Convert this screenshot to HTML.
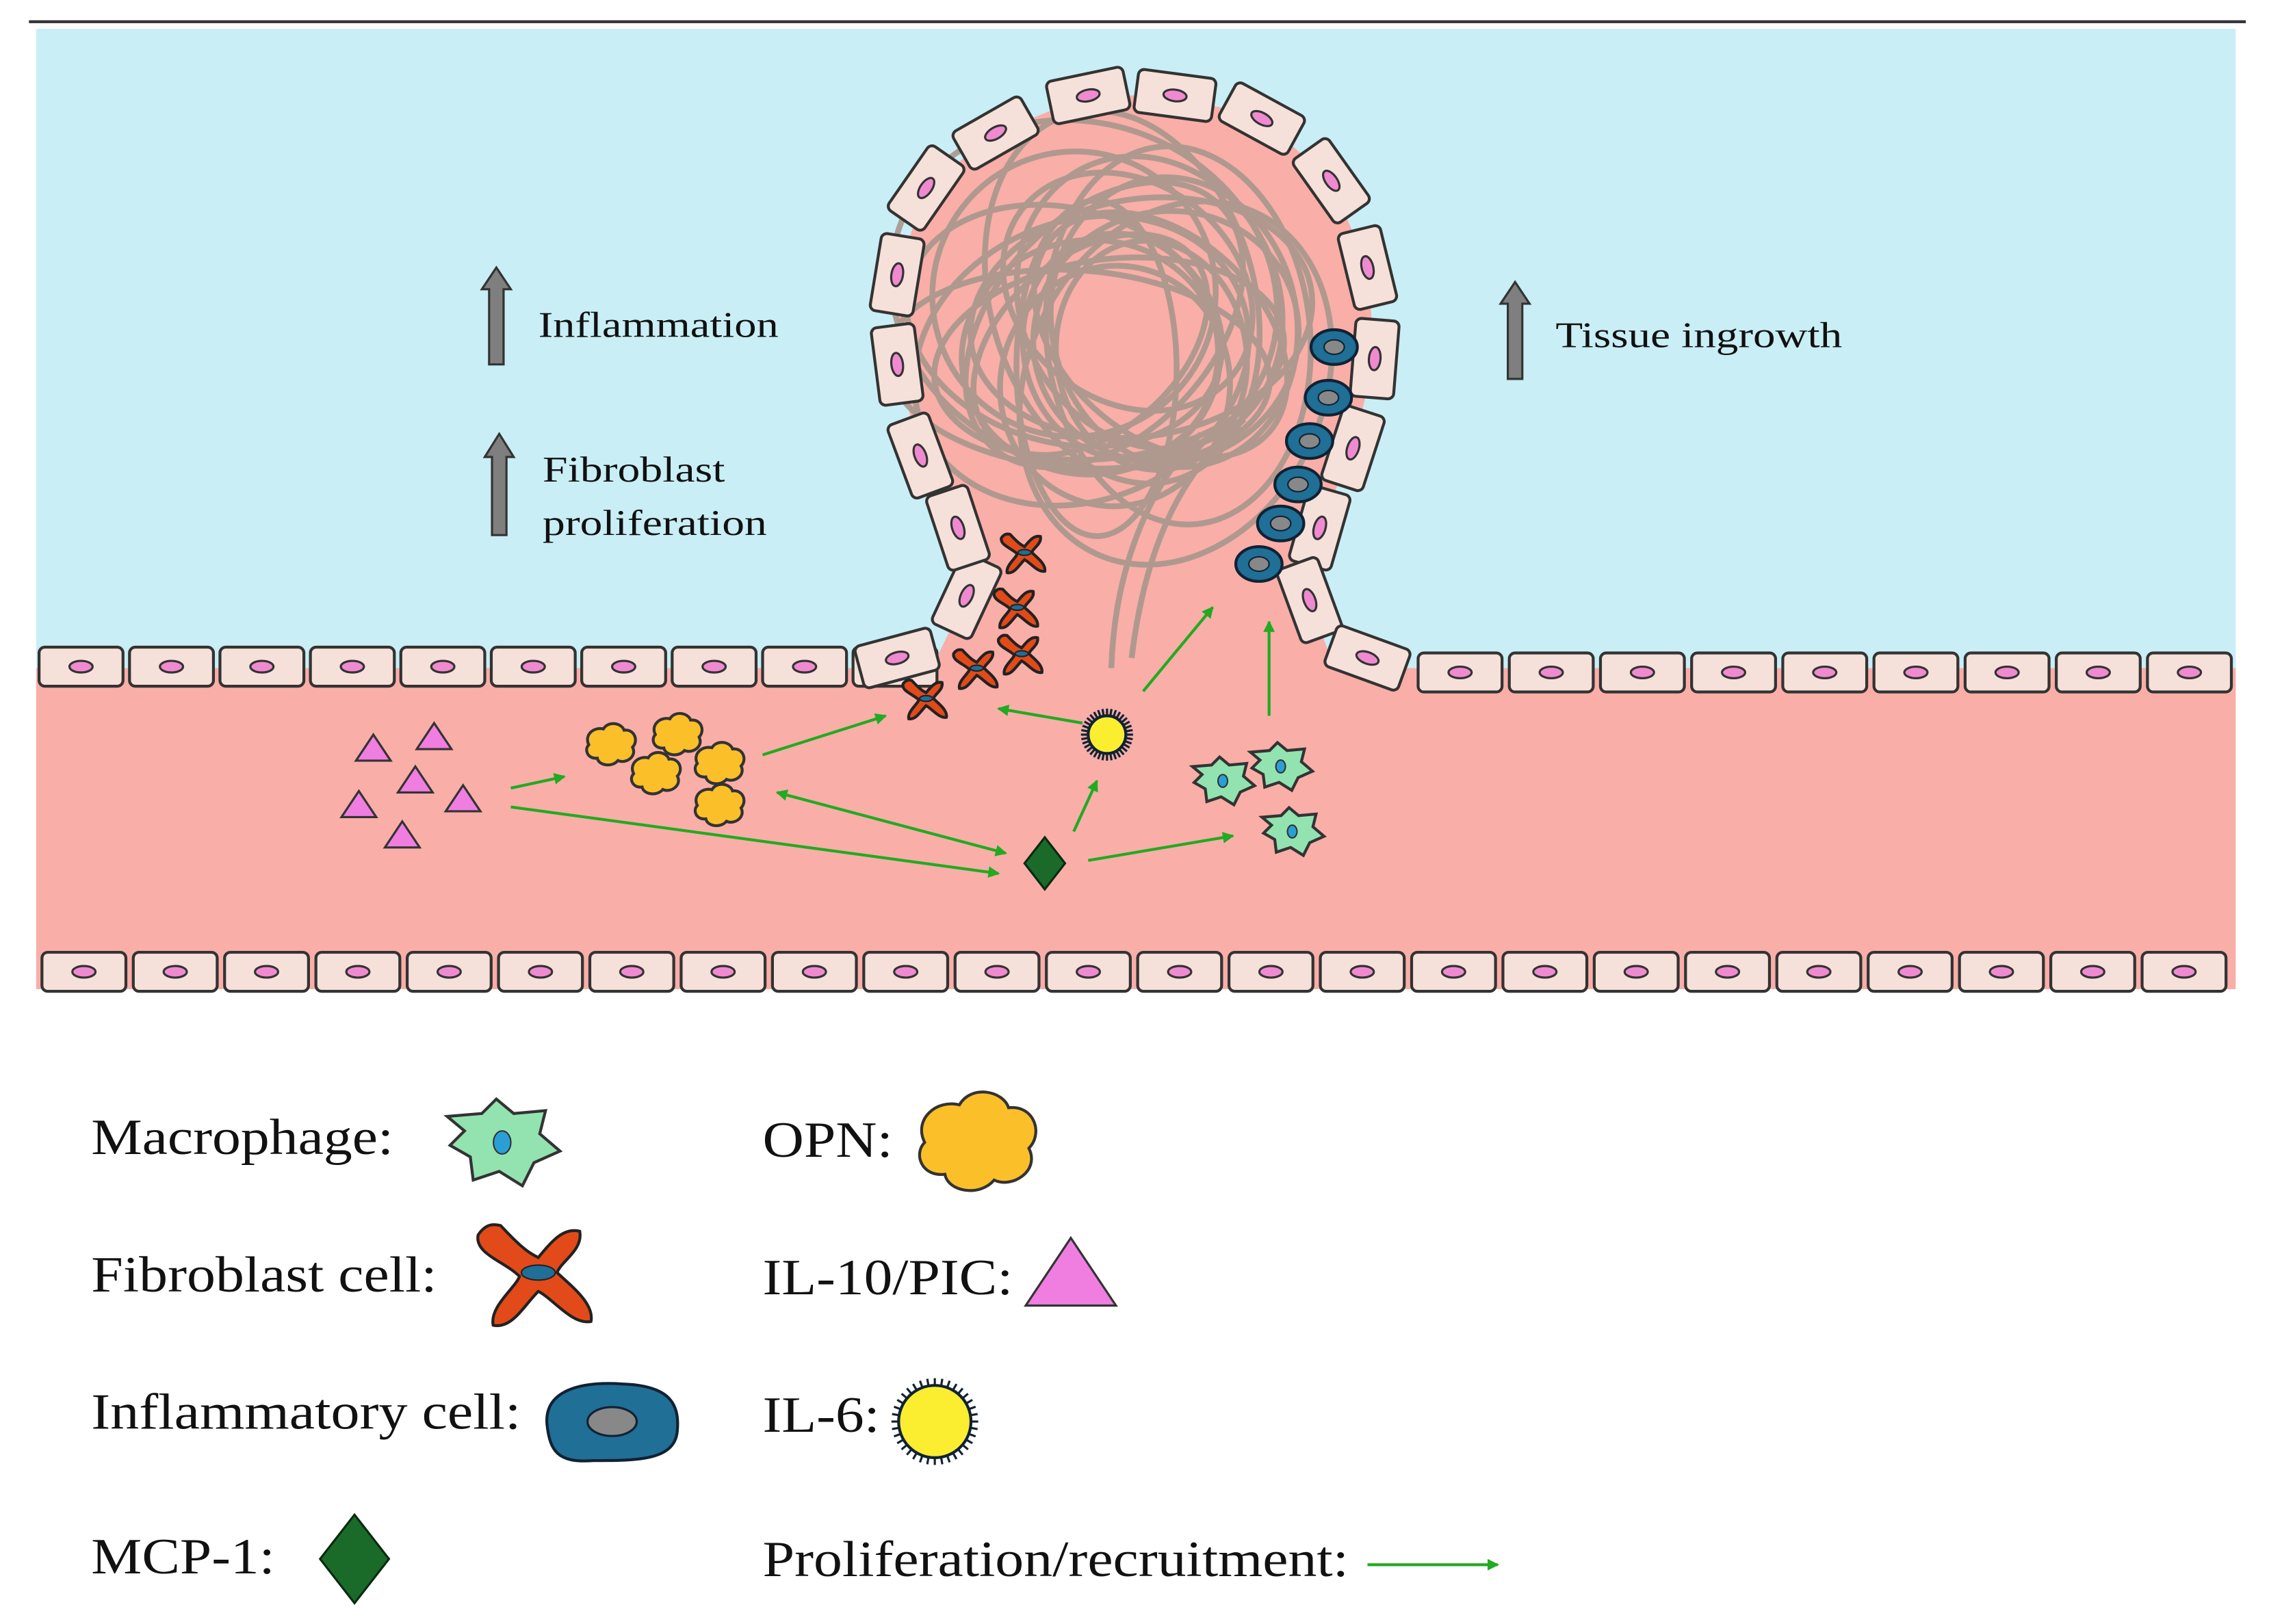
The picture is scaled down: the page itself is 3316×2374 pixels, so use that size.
<!DOCTYPE html>
<html><head><meta charset="utf-8"><style>
html,body{margin:0;padding:0;background:#fff;}
svg{display:block;}
text{font-family:"Liberation Serif",serif;fill:#111;}
</style></head><body>
<svg id="s" width="3316" height="2374" viewBox="0 0 1568 1123" preserveAspectRatio="none" xmlns="http://www.w3.org/2000/svg">
<defs>
<marker id="ah" markerWidth="8" markerHeight="8" refX="7" refY="4" orient="auto" markerUnits="userSpaceOnUse"><path d="M0,0 L8,4 L0,8 Z" fill="#22aa22"/></marker>
<marker id="ahs" markerWidth="8" markerHeight="8" refX="1" refY="4" orient="auto" markerUnits="userSpaceOnUse"><path d="M8,0 L0,4 L8,8 Z" fill="#22aa22"/></marker>
</defs>
<line x1="20" y1="15" x2="1552" y2="15" stroke="#333" stroke-width="2"/>
<rect x="25" y="20" width="1520" height="445" fill="#c9eef5"/>
<rect x="25" y="462" width="1520" height="222" fill="#f9aea8"/>
<polygon id="bul" fill="#f9aea8" points="640,470 668,412 662,365 636,315 620,252 620,190 640,130 688,92 752,66 812,66 872,82 920,125 945,185 950,248 935,310 912,365 905,415 925,470"/>
<g id="fib" fill="none" stroke="#a8978c" stroke-width="4" opacity="0.9"></g>
<g id="cells"></g>
<g id="misc"></g>
<g stroke="#22aa22" stroke-width="2" fill="none">
<line x1="353" y1="545" x2="390" y2="537" marker-end="url(#ah)"/>
<line x1="527" y1="522" x2="612" y2="495" marker-end="url(#ah)"/>
<line x1="748" y1="500" x2="690" y2="490" marker-end="url(#ah)"/>
<line x1="790" y1="478" x2="838" y2="420" marker-end="url(#ah)"/>
<line x1="877" y1="495" x2="877" y2="430" marker-end="url(#ah)"/>
<line x1="353" y1="558" x2="690" y2="604" marker-end="url(#ah)"/>
<line x1="695" y1="590" x2="537" y2="548" marker-end="url(#ah)" marker-start="url(#ahs)"/>
<line x1="742" y1="575" x2="758" y2="540" marker-end="url(#ah)"/>
<line x1="752" y1="595" x2="852" y2="578" marker-end="url(#ah)"/>
<line x1="945" y1="1082" x2="1035" y2="1082" marker-end="url(#ah)"/>
</g>
<g fill="#7f7f7f" stroke="#333" stroke-width="1.5">
<path d="M338,252 L338,200 L333,200 L343,185 L353,200 L348,200 L348,252 Z"/>
<path d="M340,370 L340,316 L335,316 L345,300 L355,316 L350,316 L350,370 Z"/>
<path d="M1042,262 L1042,210 L1037,210 L1047,195 L1057,210 L1052,210 L1052,262 Z"/>
</g>
<text x="372" y="233" font-size="25" textLength="166" lengthAdjust="spacingAndGlyphs">Inflammation</text>
<text x="375" y="333" font-size="25" textLength="126" lengthAdjust="spacingAndGlyphs">Fibroblast</text>
<text x="375" y="370" font-size="25" textLength="155" lengthAdjust="spacingAndGlyphs">proliferation</text>
<text x="1075" y="240" font-size="25" textLength="198" lengthAdjust="spacingAndGlyphs">Tissue ingrowth</text>
<text x="63" y="798" font-size="35" textLength="209" lengthAdjust="spacingAndGlyphs">Macrophage:</text>
<text x="63" y="893" font-size="35" textLength="239" lengthAdjust="spacingAndGlyphs">Fibroblast cell:</text>
<text x="63" y="988" font-size="35" textLength="297" lengthAdjust="spacingAndGlyphs">Inflammatory cell:</text>
<text x="63" y="1088" font-size="35" textLength="127" lengthAdjust="spacingAndGlyphs">MCP-1:</text>
<text x="527" y="800" font-size="35" textLength="90" lengthAdjust="spacingAndGlyphs">OPN:</text>
<text x="527" y="895" font-size="35" textLength="173" lengthAdjust="spacingAndGlyphs">IL-10/PIC:</text>
<text x="527" y="990" font-size="35" textLength="81" lengthAdjust="spacingAndGlyphs">IL-6:</text>
<text x="527" y="1090" font-size="35" textLength="405" lengthAdjust="spacingAndGlyphs">Proliferation/recruitment:</text>
</svg>
<script>
var NS="http://www.w3.org/2000/svg";
function el(p,t,a){var e=document.createElementNS(NS,t);for(var k in a)e.setAttribute(k,a[k]);p.appendChild(e);return e;}
var cells=document.getElementById('cells'),misc=document.getElementById('misc'),fib=document.getElementById('fib');
function cell(cx,cy,ang,w,h){var g=el(cells,'g',{transform:'translate('+cx+','+cy+') rotate('+ang+')'});
el(g,'rect',{x:-w/2,y:-h/2,width:w,height:h,rx:4,fill:'#f5e1d9',stroke:'#333','stroke-width':2});
el(g,'ellipse',{cx:0,cy:0,rx:8,ry:4,fill:'#f08ad0',stroke:'#333','stroke-width':1.5});}
var seed=7;function r(){seed=(seed*9301+49297)%233280;return seed/233280;}
for(var i=0;i<22;i++){var cx=775+(r()-0.5)*80,cy=235+(r()-0.5)*70;el(fib,'ellipse',{cx:cx,cy:cy,rx:70+r()*70,ry:50+r()*70,transform:'rotate('+(r()*180)+' '+cx+' '+cy+')'});}
el(fib,'path',{d:'M768,462 C770,400 790,340 830,300'});el(fib,'path',{d:'M782,455 C790,390 810,330 860,290'});
for(var x=25;x<650;x+=62.5)cell(x+31,461,0,58,27);
for(var x=978;x<1545;x+=63)cell(x+31,465,0,58,27);
for(var x=27;x<1540;x+=63.1)cell(x+31,672,0,58,27);
var P=[[620,455],[668,412],[662,365],[636,315],[620,252],[620,190],[640,130],[688,92],[752,66],[812,66],[872,82],[920,125],[945,185],[950,248],[935,310],[912,365],[905,415],[945,455]];
for(var i=0;i<P.length;i++){var a=P[Math.max(0,i-1)],b=P[Math.min(P.length-1,i+1)];var ang=Math.atan2(b[1]-a[1],b[0]-a[0])*180/Math.PI;if(i==0)ang=-15;if(i==P.length-1)ang=20;cell(P[i][0],P[i][1],ang,54,30);}
[[922,240],[918,275],[905,305],[897,335],[885,362],[870,390]].forEach(function(p){el(misc,'ellipse',{cx:p[0],cy:p[1],rx:16,ry:12,fill:'#1f6f96',stroke:'#123','stroke-width':2});el(misc,'ellipse',{cx:p[0],cy:p[1],rx:7,ry:5,fill:'#888',stroke:'#123'});});
function fibro(x,y,s){var g=el(misc,'g',{transform:'translate('+x+','+y+') scale('+s+')'});
el(g,'path',{d:'M-20,-25 C-8,-12 -4,-10 0,-8 C8,-18 14,-24 22,-22 C24,-12 12,-6 10,0 C16,6 30,16 28,26 C18,28 8,14 0,10 C-8,18 -14,30 -24,28 C-26,18 -12,8 -10,2 C-18,-6 -34,-10 -32,-20 C-28,-26 -24,-26 -20,-25Z',fill:'#e24a1a',stroke:'#222','stroke-width':2/s});
el(g,'ellipse',{cx:0,cy:0,rx:9,ry:4,fill:'#1f6f96',stroke:'#222','stroke-width':1/s});}
[[708,382],[703,420],[706,452],[675,462],[640,483]].forEach(function(p){fibro(p[0],p[1],0.5);});
fibro(372,880,1.3);
function il6(x,y,r){for(var k=0;k<36;k++){var a=k*Math.PI/18;el(misc,'line',{x1:x+Math.cos(a)*r,y1:y+Math.sin(a)*r,x2:x+Math.cos(a)*(r+5),y2:y+Math.sin(a)*(r+5),stroke:'#123','stroke-width':1.5});}
el(misc,'circle',{cx:x,cy:y,r:r,fill:'#fbee30',stroke:'#123','stroke-width':2});}
il6(765,508,13);il6(646,983,25);
function mac(x,y,s){var g=el(misc,'g',{transform:'translate('+x+','+y+') scale('+s+')'});
el(g,'path',{d:'M-38,-18 L-14,-20 L-4,-30 L8,-20 L30,-22 L26,-6 L40,6 L22,14 L14,30 L-2,20 L-20,26 L-22,10 L-36,2 L-26,-8 Z',fill:'#92e3b0',stroke:'#333','stroke-width':2/s});
el(g,'ellipse',{cx:0,cy:0,rx:6,ry:8,fill:'#2a9fd6',stroke:'#333','stroke-width':1/s});}
mac(845,540,0.55);mac(885,530,0.55);mac(893,575,0.55);mac(347,790,1);
function opn(x,y,s){var g=el(misc,'g',{transform:'translate('+x+','+y+') scale('+s+')'});
el(g,'path',{d:'M-36,0 C-44,-16 -28,-30 -12,-26 C-4,-40 18,-36 22,-24 C40,-26 46,-6 36,4 C44,20 24,32 12,26 C2,38 -20,34 -22,22 C-38,24 -44,8 -36,0Z',fill:'#fbbf2a',stroke:'#333','stroke-width':2/s});}
[[422,515],[468,508],[453,535],[497,528],[497,557]].forEach(function(p){opn(p[0],p[1],0.42);});
opn(675,790,1);
function tri(x,y,s){el(misc,'polygon',{points:(x)+','+(y-10*s)+' '+(x+12*s)+','+(y+8*s)+' '+(x-12*s)+','+(y+8*s),fill:'#f07ee0',stroke:'#333','stroke-width':1.5});}
[[258,518],[300,510],[287,540],[248,557],[320,553],[278,578]].forEach(function(p){tri(p[0],p[1],1);});
tri(740,882,2.6);
function dia(x,y,s){el(misc,'polygon',{points:x+','+(y-18*s)+' '+(x+14*s)+','+y+' '+x+','+(y+18*s)+' '+(x-14*s)+','+y,fill:'#1a6b2a',stroke:'#0a2a10','stroke-width':1.5});}
dia(722,597,1);dia(245,1078,1.7);
el(misc,'path',{d:'M378,985 C376,962 400,955 430,957 C462,958 470,970 468,990 C466,1010 440,1010 410,1010 C385,1012 380,1003 378,985Z',fill:'#1f6f96',stroke:'#123','stroke-width':2});
el(misc,'ellipse',{cx:423,cy:983,rx:17,ry:10,fill:'#888',stroke:'#123','stroke-width':1.5});
</script>
</body></html>
